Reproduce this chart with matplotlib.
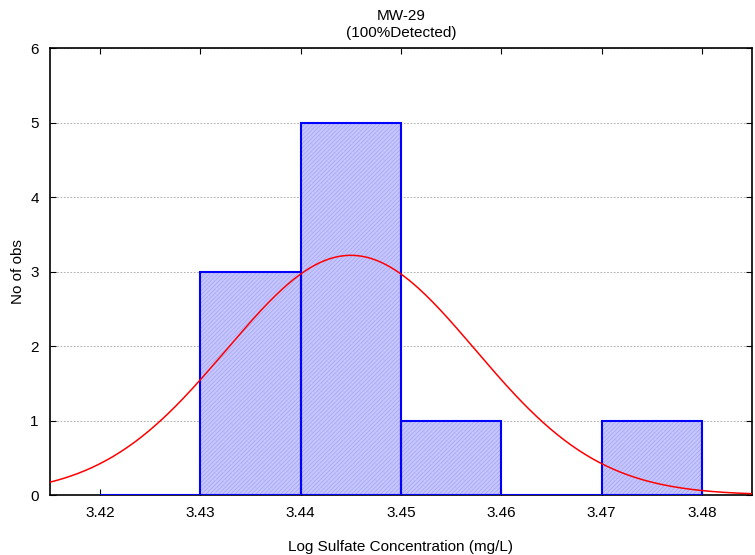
import numpy as np
import matplotlib
matplotlib.use("Agg")
import matplotlib.pyplot as plt

# histogram bins (left edges) and counts
bin_left = [3.42, 3.43, 3.44, 3.45, 3.46, 3.47]
counts = [0, 3, 5, 1, 0, 1]
bin_width = 0.01

# fitted normal curve parameters
n_obs = 10
fit_mean = 3.445
fit_sd = 0.0124

x_ticks = [3.42, 3.43, 3.44, 3.45, 3.46, 3.47, 3.48]
y_ticks = [0, 1, 2, 3, 4, 5, 6]

plt.rcParams["font.family"] = ["Liberation Sans", "DejaVu Sans"]
plt.rcParams["hatch.linewidth"] = 0.5

fig = plt.figure(figsize=(7.55, 5.55), dpi=100)
ax = fig.add_axes([0.0662, 0.1081, 0.9298, 0.8054])

# hatched fill
ax.bar(bin_left, counts, width=bin_width, align="edge", facecolor="#c6c6ff",
       edgecolor="#a4a4f2", hatch="////////", linewidth=0, zorder=2)
# outlines
ax.bar(bin_left, counts, width=bin_width, align="edge", facecolor="none",
       edgecolor="#0000ff", linewidth=1.5, zorder=3)

xs = np.linspace(3.415, 3.485, 300)
curve = n_obs * bin_width / (fit_sd * np.sqrt(2 * np.pi)) * np.exp(-0.5 * ((xs - fit_mean) / fit_sd) ** 2)
ax.plot(xs, curve, color="red", linewidth=1.1, zorder=4)

ax.set_xlim(3.415, 3.485)
ax.set_ylim(0, 6)
ax.set_xticks(x_ticks)
ax.set_xticklabels([f"{t:.2f}" for t in x_ticks])
ax.set_yticks(y_ticks)
ax.yaxis.grid(True, linestyle=(0, (2, 2)), color="#a0a0a0", linewidth=0.6, zorder=0)
ax.set_axisbelow(True)
ax.tick_params(direction="in", length=4, top=True, right=True, labelsize=11, pad=8)
for sp in ax.spines.values():
    sp.set_linewidth(1.2)

ax.set_title("MW-29\n(100%Detected)", fontsize=11, pad=8, linespacing=1.3)
ax.set_xlabel("Log Sulfate Concentration (mg/L)", fontsize=11, labelpad=14)
ax.set_ylabel("No of obs", fontsize=11, labelpad=4)

fig.savefig("out.png", dpi=100)
